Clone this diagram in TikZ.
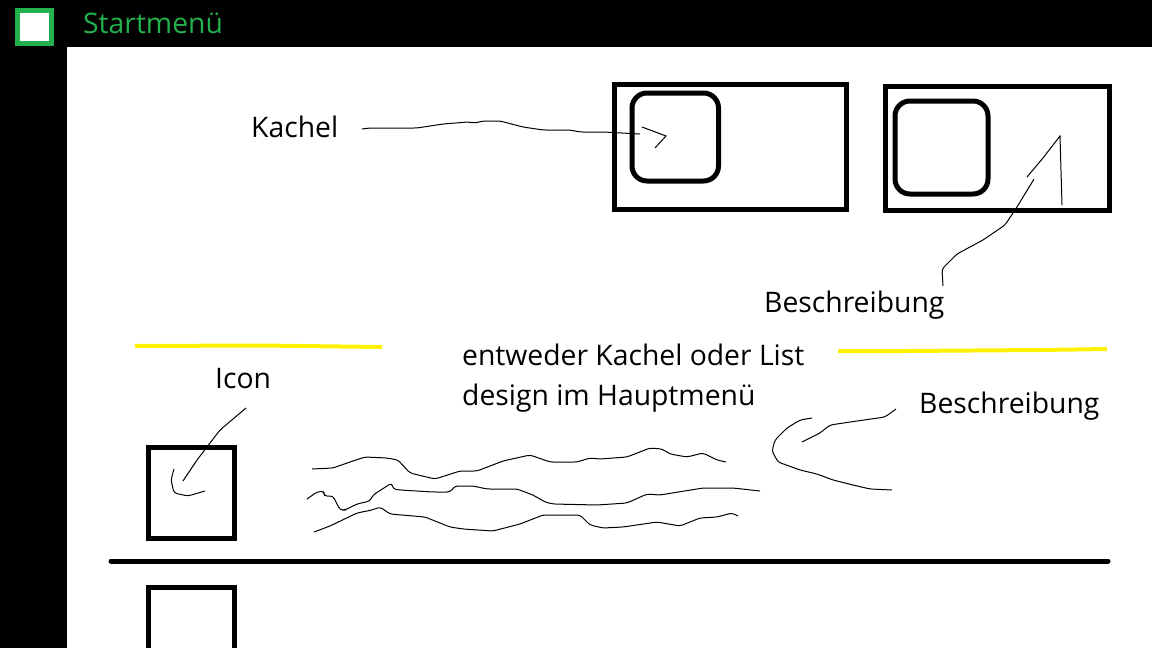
\documentclass[tikz,border=0pt]{standalone}
\usepackage{fontspec}
\setmainfont{Open Sans}
\definecolor{menugreen}{HTML}{22B14C}
\definecolor{markyellow}{HTML}{FFF200}
\tikzset{
    label/.style={anchor=base west,inner sep=0pt,font=\fontsize{28.3}{34}\selectfont},
    box/.style={draw=black,line width=5pt,fill=white},
    tile/.style={draw=black,line width=5pt,rounded corners=15pt},
    scribble/.style={draw=black,line width=1pt,rounded corners=3pt},
    scribblehead/.style={draw=black,line width=1pt},
    marker/.style={draw=markyellow,line width=4pt},
}
\begin{document}
\begin{tikzpicture}[x=1pt,y=-1pt]
    \useasboundingbox (0,0) rectangle (1152,648);
    % window frame
    \fill[black] (0,0) rectangle (1152,47);
    \fill[black] (0,0) rectangle (67,648);
    \draw[menugreen,line width=5pt,fill=white] (17.5,10.5) rectangle (51.5,43.5);
    \node[label,text=menugreen] (title) at (83,33) {Startmenü};
    % tiles
    \draw[box] (614,84.5) rectangle (846.5,209.5);
    \draw[tile] (632,93) rectangle (718.5,181);
    \draw[box] (885,86) rectangle (1109.5,210);
    \draw[tile] (895,101) rectangle (988,194);
    % list rows
    \draw[box] (148,447) rectangle (234,538);
    \draw[black,line width=5pt,line cap=round] (111,561) -- (1108,561);
    \draw[box] (148,587) rectangle (234,660);
    % yellow marks
    \draw[marker] (135,346) -- (260,345.5) -- (382,347);
    \draw[marker] (838,351) -- (905,351) -- (1040,350) -- (1107,349);
    % labels
    \node[label] (kachel) at (251,137.5) {Kachel};
    \node[label] (descTile) at (764,312) {Beschreibung};
    \node[label] (descList) at (919,413) {Beschreibung};
    \node[label] (icon) at (215,388) {Icon};
    \node[label] (noteA) at (462,365) {entweder Kachel oder List};
    \node[label] (noteB) at (462,405) {design im Hauptmenü};
    % Kachel arrow
    \draw[scribble] (362,129) -- (370,128) -- (417,128) -- (443,124) -- (468,122) -- (475,123) -- (483,121) -- (500,121) -- (523,127) -- (543,130) -- (570,130) -- (580,132) -- (603,132) -- (640,134);
    \draw[scribblehead] (642,127) -- (666,136) -- (655,148);
    % Beschreibung arrow, tile
    \draw[scribble] (943,286) -- (942,269) -- (957,254) -- (983,240) -- (1005,225) -- (1017,207) -- (1034,179);
    \draw[scribblehead] (1027,177) -- (1043,158) -- (1060,136) -- (1062,205);
    % Icon arrow
    \draw[scribble] (246,408) -- (220,430) -- (210,443) -- (197,460) -- (183,481);
    \draw[scribble] (174,469) -- (171,480) -- (174,493) -- (188,496) -- (205,491);
    % text lines
    \draw[scribble] (312,469) -- (333,468) -- (350,462) -- (365,457) -- (387,458) -- (398,460) -- (410,473) -- (435,479) -- (460,471) -- (477,471) -- (503,461) -- (530,455) -- (550,462) -- (577,462) -- (590,458) -- (600,459) -- (627,457) -- (650,448) -- (662,449) -- (670,454) -- (687,457) -- (703,453) -- (717,460) -- (726,462);
    \draw[scribble] (307,499) -- (317,492) -- (324,491) -- (324,496) -- (333,496) -- (340,510) -- (345,510) -- (357,504) -- (370,501) -- (373,495) -- (387,486) -- (392,483) -- (393,489) -- (400,490) -- (433,492) -- (450,492) -- (455,486) -- (473,486) -- (487,489) -- (517,489) -- (533,495) -- (545,502) -- (553,504) -- (597,505) -- (627,503) -- (647,494) -- (660,495) -- (703,488) -- (733,488) -- (760,491);
    \draw[scribble] (314,532) -- (330,526) -- (357,513) -- (372,510) -- (380,507) -- (390,514) -- (425,517) -- (450,527) -- (463,529) -- (493,531) -- (520,524) -- (543,515) -- (580,515) -- (590,525) -- (603,528) -- (623,527) -- (657,522) -- (680,526) -- (700,518) -- (717,517) -- (732,513) -- (738,516);
    % Beschreibung arrow, list
    \draw[scribble] (812,418) -- (800,420) -- (787,428) -- (775,440) -- (772,451) -- (778,462) -- (800,470) -- (817,474) -- (833,480) -- (853,485) -- (870,489) -- (892,490);
    \draw[scribble] (802,442) -- (820,433) -- (830,425) -- (857,421) -- (885,417) -- (896,409);
\end{tikzpicture}
\end{document}
